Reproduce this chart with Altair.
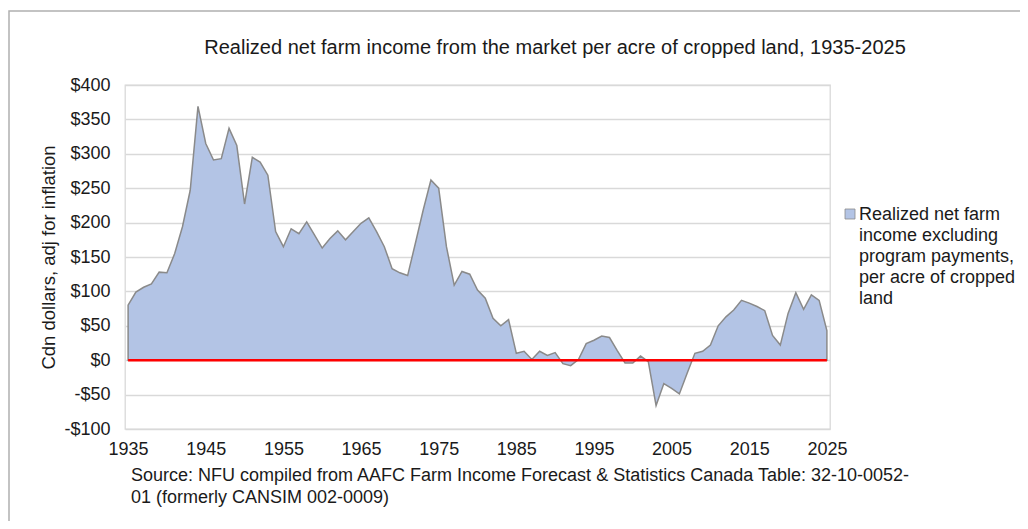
import altair as alt
import pandas as pd

years = list(range(1935, 2026))
income = [80, 99, 106, 111, 128, 127, 155, 194, 247, 369,
          315, 291, 293, 337, 312, 227, 295, 288, 269, 187,
          165, 191, 184, 201, 182, 163, 177, 188, 175, 187,
          199, 207, 187, 165, 133, 127, 123, 170, 218, 262,
          250, 165, 109, 129, 125, 102, 90, 61, 50, 59,
          10, 13, 1, 13, 7, 11, -5, -8, 1, 24,
          29, 35, 33, 14, -4, -4, 6, -2, -66, -34,
          -41, -49, -19, 10, 13, 22, 50, 63, 73, 87,
          83, 78, 72, 36, 22, 68, 98, 74, 95, 87,
          43]
x_ticks = [1935, 1945, 1955, 1965, 1975, 1985, 1995, 2005, 2015, 2025]
y_ticks = [-100, -50, 0, 50, 100, 150, 200, 250, 300, 350, 400]
series_lines = ["Realized net farm", "income excluding", "program payments,",
                "per acre of cropped", "land"]
title_text = "Realized net farm income from the market per acre of cropped land, 1935-2025"
y_title = "Cdn dollars, adj for inflation"
source_lines = ["Source: NFU compiled from AAFC Farm Income Forecast & Statistics Canada Table: 32-10-0052-",
                "01 (formerly CANSIM 002-0009)"]

FONT = "Liberation Sans"
TXT = "#1a1a1a"
series_name = "|".join(series_lines)

df = pd.DataFrame({"year": years, "value": income, "series": series_name})
zero_df = pd.DataFrame({"x": [years[0]], "x2": [years[-1]], "y": [0]})

x_scale = alt.Scale(domain=[1934.6, 2025.4], nice=False, zero=False)
y_scale = alt.Scale(domain=[-100, 400], nice=False)

x_axis = alt.Axis(values=x_ticks, format="d", title=None, grid=False,
                  domain=False, ticks=False, labelPadding=11,
                  labelFontSize=18, labelFont=FONT, labelColor=TXT,
                  labelFlush=False, labelOverlap=False)
y_axis = alt.Axis(values=y_ticks, title=y_title, grid=True,
                  gridColor="#d9d9d9", gridWidth=1.3,
                  domain=False, ticks=False, labelPadding=15, labelOverlap=False,
                  labelFontSize=18, labelFont=FONT, labelColor=TXT,
                  labelExpr="datum.value < 0 ? '-$' + format(-datum.value, 'd') : '$' + format(datum.value, 'd')",
                  titleFont=FONT, titleFontSize=18.5, titleFontWeight="normal",
                  titleColor=TXT, titleX=-77, titleY=172,
                  titleAngle=-90, titleAlign="center", titleBaseline="middle")

area = alt.Chart(df).mark_area(
    stroke="#8a8a8a", strokeWidth=1.5, opacity=1
).encode(
    x=alt.X("year:Q", scale=x_scale, axis=x_axis),
    y=alt.Y("value:Q", scale=y_scale, axis=y_axis),
    color=alt.Color("series:N", scale=alt.Scale(range=["#b3c4e5"]),
                    legend=alt.Legend(title=None, orient="none", legendX=716, legendY=126,
                                      symbolType="M-1,-2.2H1V-0.2H-1Z", symbolSize=100,
                                      symbolStrokeColor="#8a8a8a", symbolStrokeWidth=0.8,
                                      labelExpr="split(datum.label, '|')",
                                      labelFont=FONT, labelFontSize=18, labelColor=TXT,
                                      labelBaseline="alphabetic", labelOffset=0,
                                      labelLimit=400)),
)

zero_line = alt.Chart(zero_df).mark_rule(color="#ff0000", strokeWidth=2.5).encode(
    x=alt.X("x:Q", scale=x_scale, axis=x_axis), x2="x2:Q",
    y=alt.Y("y:Q", scale=y_scale, axis=y_axis)
)

border = alt.Chart(alt.Data(values=[{}])).mark_rect(
    fillOpacity=0, stroke="#b0b0b0", strokeWidth=1.5
).encode(
    x=alt.value(-116), x2=alt.value(920), y=alt.value(-74), y2=alt.value(470)
)

title = alt.Chart(alt.Data(values=[{}])).mark_text(
    text=title_text, align="center", baseline="middle", font=FONT,
    fontSize=20, color=TXT
).encode(x=alt.value(430), y=alt.value(-37))

source = alt.Chart(alt.Data(values=[{}])).mark_text(
    text=source_lines, align="left", baseline="alphabetic", font=FONT,
    fontSize=18, color=TXT, lineHeight=22
).encode(x=alt.value(6), y=alt.value(396))

chart = alt.layer(border, area, zero_line, title, source).properties(
    width=705, height=344,
    autosize="none",
    padding={"left": 117, "top": 77, "right": 190, "bottom": 92},
).configure(
    background="white",
    style={"guide-label": {"lineHeight": 21}}
).configure_view(stroke="#d9d9d9", strokeWidth=1.3)

chart.save("out.html", embed_options={"renderer": "svg", "actions": False})
